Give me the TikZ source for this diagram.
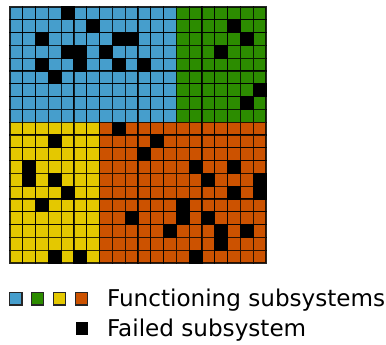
\documentclass[tikz,border=0pt]{standalone}
\usepackage{fontspec}
\setmainfont{DejaVu Sans}
\definecolor{cblue}{RGB}{70,158,204}
\definecolor{cgreen}{RGB}{44,140,0}
\definecolor{cyellow}{RGB}{228,200,0}
\definecolor{corange}{RGB}{204,82,0}
\tikzset{
  cellbox/.style={draw=black, draw opacity=0.8, line width=1.3},
  failbox/.style={fill=black, draw=black, line width=1.3},
  keybox/.style={draw=black!85, line width=1.3},
  keytext/.style={anchor=base west, inner sep=0pt, font=\fontsize{23.1}{27}\selectfont}
}
\newcommand{\cellsize}{12.8}
\begin{document}
\begin{tikzpicture}[x=1pt, y=-1pt]
  \useasboundingbox (0,0) rectangle (386,345);
  % thin outer frame around the grid
  \draw[gray!45, line width=0.8] (9.2,6.2) rectangle (266.8,263.8);
  % the four subsystem regions, cell by cell
  \foreach \r in {0,...,19} {
    \foreach \c in {0,...,19} {
      \pgfmathsetmacro{\region}{\r<9 ? (\c<13 ? 1 : 2) : (\c<7 ? 3 : 4)}
      \ifcase\numexpr\region\relax
      \or \def\cfill{cblue}\or \def\cfill{cgreen}\or \def\cfill{cyellow}\or \def\cfill{corange}\fi
      \filldraw[cellbox, fill=\cfill] ({10+\cellsize*\c},{7+\cellsize*\r}) rectangle ++(\cellsize,\cellsize);
    }
  }
  % failed cells (row/column)
  \foreach \r/\c in {0/4, 1/6, 2/2, 2/8, 2/9, 3/4, 3/5, 3/7, 4/2, 4/5, 4/8, 4/10, 5/3,
                     1/17, 2/18, 3/16, 6/19, 7/18,
                     10/3, 12/1, 13/1, 13/3, 14/4, 15/2, 19/3, 19/5,
                     9/8, 10/11, 11/10, 12/14, 12/17, 13/15, 13/19, 14/17, 14/19,
                     15/13, 16/9, 16/13, 16/15, 17/12, 17/16, 17/18, 18/16, 19/14} {
    \filldraw[failbox] ({10+\cellsize*\c},{7+\cellsize*\r}) rectangle ++(\cellsize,\cellsize);
  }
  % key
  \foreach \x/\col in {15.9/cblue, 37.5/cgreen, 59.5/cyellow, 81.5/corange} {
    \filldraw[keybox, fill=\col] (\x-6.2,292.6) rectangle (\x+6.2,305);
  }
  \fill[black] (75.7,322.3) rectangle (88.3,335.2);
  \node[keytext] (func) at (106.8,306) {Functioning subsystems};
  \node[keytext] (fail) at (106.8,336.7) {Failed subsystem};
\end{tikzpicture}
\end{document}
